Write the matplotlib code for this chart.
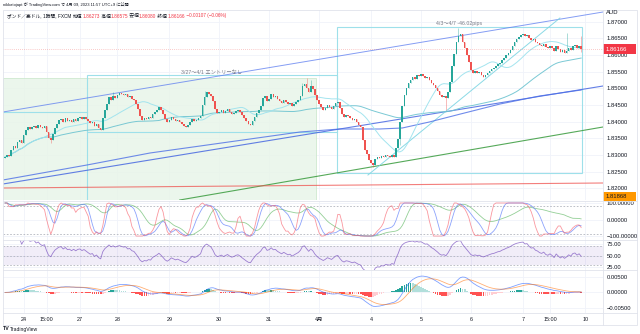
import numpy as np
import pandas as pd
import matplotlib
matplotlib.use("Agg")
import matplotlib.pyplot as plt
from matplotlib.patches import Rectangle
from matplotlib.lines import Line2D

plt.rcParams['font.family'] = ['Liberation Sans', 'Noto Sans CJK JP', 'DejaVu Sans']

W, H = 640, 334

# ---------------- data: GBP/AUD, 1h, FXCM ----------------
first_open = 1.8291
close_week1 = [  # Mar 23 .. Mar 31
    1.8294, 1.8300, 1.8297, 1.8315, 1.8327, 1.8321, 1.8339, 1.8345, 1.8336, 1.8360, 1.8375, 1.8384,
    1.8378, 1.8384, 1.8387, 1.8381, 1.8390, 1.8384, 1.8381, 1.8387, 1.8369, 1.8351, 1.8345,
    1.8363, 1.8381, 1.8393, 1.8405, 1.8408, 1.8399, 1.8411, 1.8402, 1.8405, 1.8399, 1.8408, 1.8402,
    1.8411, 1.8414, 1.8408, 1.8414, 1.8408,
    1.8402, 1.8396, 1.8399, 1.8387, 1.8393, 1.8381, 1.8375,
    1.8411, 1.8435, 1.8453, 1.8474, 1.8465, 1.8477, 1.8471, 1.8480, 1.8486,
    1.8483, 1.8480, 1.8483, 1.8474, 1.8477, 1.8468, 1.8465, 1.8453, 1.8438, 1.8417, 1.8405,
    1.8411, 1.8408, 1.8414, 1.8411, 1.8423, 1.8429, 1.8435, 1.8444, 1.8435,
    1.8423, 1.8408, 1.8399, 1.8405, 1.8414, 1.8408, 1.8402, 1.8405, 1.8399, 1.8393, 1.8387, 1.8384, 1.8390,
    1.8399, 1.8408, 1.8402, 1.8405, 1.8411, 1.8417, 1.8450, 1.8474, 1.8489,
    1.8483, 1.8477, 1.8462, 1.8438, 1.8426,
    1.8429, 1.8435, 1.8426, 1.8432, 1.8438, 1.8429, 1.8423, 1.8426, 1.8432, 1.8435, 1.8429,
    1.8420, 1.8411, 1.8402, 1.8393, 1.8390, 1.8402, 1.8414, 1.8426,
    1.8435, 1.8447, 1.8471, 1.8477, 1.8462, 1.8468, 1.8483, 1.8474, 1.8477,
    1.8468, 1.8462, 1.8456, 1.8465, 1.8459, 1.8453, 1.8456, 1.8447, 1.8453, 1.8459, 1.8465, 1.8477,
    1.8507, 1.8513, 1.8501, 1.8489, 1.8507, 1.8498, 1.8480, 1.8465,
]
close_week2 = [  # Apr 3 .. Apr 10
    1.8453, 1.8444, 1.8435, 1.8441, 1.8450, 1.8444, 1.8438, 1.8447, 1.8456, 1.8459,
    1.8441, 1.8423, 1.8414, 1.8420, 1.8417, 1.8411, 1.8405, 1.8408, 1.8399, 1.8390, 1.8384,
    1.8345, 1.8315, 1.8303, 1.8285, 1.8276, 1.8270, 1.8288, 1.8294, 1.8291, 1.8297, 1.8294, 1.8300,
    1.8297, 1.8294, 1.8300, 1.8294,
    1.8321, 1.8348, 1.8399, 1.8447, 1.8480, 1.8501, 1.8516, 1.8525, 1.8534, 1.8528, 1.8540, 1.8537, 1.8543,
    1.8537, 1.8531, 1.8534, 1.8525, 1.8516, 1.8510, 1.8501, 1.8492, 1.8480, 1.8474, 1.8477, 1.8471, 1.8489,
    1.8519, 1.8567, 1.8603, 1.8639, 1.8657, 1.8663, 1.8639,
    1.8621, 1.8600, 1.8579, 1.8555, 1.8546, 1.8552, 1.8546, 1.8549, 1.8540, 1.8534, 1.8540,
    1.8546, 1.8552, 1.8558, 1.8561, 1.8567, 1.8573, 1.8576, 1.8585, 1.8591, 1.8600, 1.8606, 1.8615,
    1.8627, 1.8639, 1.8648, 1.8654, 1.8660,
    1.8663, 1.8657, 1.8660, 1.8651, 1.8645, 1.8648, 1.8639, 1.8636, 1.8630, 1.8627, 1.8633, 1.8624,
    1.8621, 1.8627, 1.8621,
    1.8612, 1.8627, 1.8618, 1.8609, 1.8615, 1.8606, 1.8612, 1.8621, 1.8615, 1.8627, 1.8630, 1.8621,
    1.86273, 1.86166,
]
# visible wick extremes (bar index -> price)
wick_high = {52: 1.8489, 96: 1.8492, 143: 1.8516, 145: 1.8531, 147: 1.8525, 218: 1.8681,
             270: 1.8666, 277: 1.86575}
wick_low = {22: 1.8336, 177: 1.8264, 190: 1.8330, 212: 1.8435, 277: 1.86080}

# time axis
tick_bars = [9, 20, 36, 54, 79, 103, 127, 151, 176, 200, 224, 249, 262, 279]
tick_labels = ['24', '15:00', '27', '28', '29', '30', '31', '4月', '4', '5', '6', '7', '15:00', '10']

# price axis
price_ticks = [1.820, 1.825, 1.830, 1.835, 1.840, 1.845, 1.850, 1.855, 1.860, 1.865, 1.870]

# drawings (bar index, price)
upper_channel = [(-1, 1.8429), (287.5, 1.8729)]
lower_channel = [(-1, 1.8213), (287.5, 1.8507)]
green_support = [(84, 1.8165), (287.5, 1.8384)]
red_level = [(-1, 1.8201), (287.5, 1.8216)]
cyan_trend = [(174.5, 1.8240), (266.8, 1.8711)]
long_ma_bars = [-1, 39.4, 69.7, 93.8, 117.8, 141.8, 161, 180, 191, 204, 219, 238, 257, 277]
long_ma_vals = [1.8225, 1.8270, 1.8306, 1.8327, 1.8348, 1.8369, 1.8378, 1.8378, 1.8381,
                1.8399, 1.8423, 1.8453, 1.8477, 1.8495]
zone_week1 = (-1, 149.5, 1.8100, 1.8531)     # 3/27〜4/1 shaded zone
box_week1 = (39.4, 159.6, 1.8369, 1.8540)
box_week2 = (159.6, 277.4, 1.8246, 1.8684)
guide_h_price = 1.8429
label_week1 = "3/27〜4/1 エントリーなし"
label_week2 = "4/3〜4/7 -46.02pips"
last_close_label = "1.86166"
orange_label = "1.81868"

# ---------------- derived series ----------------
closes = np.array(close_week1 + close_week2)
n = len(closes)
bars = np.arange(n)
opens = np.r_[first_open, closes[:-1]]
body_hi = np.maximum(opens, closes)
body_lo = np.minimum(opens, closes)
highs = body_hi.copy()
lows = body_lo.copy()
for k, v in wick_high.items():
    highs[k] = max(highs[k], v)
for k, v in wick_low.items():
    lows[k] = min(lows[k], v)

sc = pd.Series(closes)
sh = pd.Series(highs)
sl = pd.Series(lows)
ma20 = sc.rolling(20, min_periods=1).mean()
ma75 = sc.rolling(75, min_periods=1).mean()


def stoch(period, smooth1, smooth2):
    ll = sl.rolling(period, min_periods=1).min()
    hh = sh.rolling(period, min_periods=1).max()
    k = 100 * (sc - ll) / (hh - ll).replace(0, np.nan)
    k = k.fillna(50).rolling(smooth1, min_periods=1).mean().rolling(smooth2, min_periods=1).mean()
    return 2 * k - 100


st_fast = stoch(9, 3, 1)
st_mid = stoch(14, 3, 3)
st_slow = stoch(36, 5, 4)

delta = sc.diff().fillna(0)
gain = delta.clip(lower=0).ewm(alpha=1 / 14, adjust=True).mean()
loss = (-delta.clip(upper=0)).ewm(alpha=1 / 14, adjust=True).mean()
rsi = 100 - 100 / (1 + gain / loss.replace(0, np.nan))
rsi = rsi.fillna(50)
rsi.iloc[:6] = np.nan

ema12 = sc.ewm(span=12, adjust=False).mean()
ema26 = sc.ewm(span=26, adjust=False).mean()
macd = ema12 - ema26
signal = macd.ewm(span=9, adjust=False).mean()
hist = macd - signal
prev = hist.shift(1).fillna(0)
hist_colors = np.where(hist >= 0,
                       np.where(hist > prev, '#26a69a', '#b2dfdb'),
                       np.where(hist > prev, '#ffcdd2', '#ff5252'))

# ---------------- figure ----------------
fig = plt.figure(figsize=(W / 100, H / 100), dpi=100)
fig.patch.set_facecolor('white')


def pane(x0, y0, x1, y1):
    return fig.add_axes([x0 / W, 1 - y1 / H, (x1 - x0) / W, (y1 - y0) / H])


XL = (-0.96, 287.5)
GRID = '#f0f3fa'
SEP = '#e0e3eb'
TXT = '#131722'
FS = 4.2

ax = pane(3, 10, 603, 200)
ax_st = pane(3, 201, 603, 240)
ax_rsi = pane(3, 240, 603, 270)
ax_m = pane(3, 270, 603, 313)

for a in (ax, ax_st, ax_rsi, ax_m):
    a.set_xlim(*XL)
    a.set_facecolor('white')
    for s in a.spines.values():
        s.set_visible(False)
    a.set_axisbelow(True)
    a.set_xticks(tick_bars)
    a.grid(True, color=GRID, lw=0.6)
    a.yaxis.tick_right()
    a.tick_params(axis='both', length=0, labelsize=FS, labelcolor=TXT, pad=2.4)
    a.tick_params(axis='x', labelbottom=False)

# main price pane
ax.set_ylim(1.8165, 1.8735)
ax.set_yticks(price_ticks)
ax.set_yticklabels([f"{p:.5f}" for p in price_ticks])

x0z, x1z, y0z, y1z = zone_week1
ax.add_patch(Rectangle((x0z, y0z), x1z - x0z, y1z - y0z, facecolor='#e8f5e9', edgecolor='#c8e6c9',
                       lw=0.6, alpha=0.85, zorder=1))
for bx in (box_week1, box_week2):
    ax.add_patch(Rectangle((bx[0], bx[2]), bx[1] - bx[0], bx[3] - bx[2], facecolor='none',
                           edgecolor='#9ee0ea', lw=0.8, zorder=2))
ax.plot([box_week1[0], box_week1[0]], [1.8100, box_week1[2]], color='#9ee0ea', lw=0.8, zorder=2)
ax.plot([-1, box_week1[0]], [guide_h_price, guide_h_price], color='#9ee0ea', lw=0.8, zorder=2)

for pts, col, lw, al in ((upper_channel, '#5b7cf0', 0.7, 0.75),
                         (lower_channel, '#3d5fe0', 0.8, 0.8),
                         (green_support, '#43a047', 0.8, 0.9),
                         (red_level, '#ef5350', 0.8, 0.75),
                         (cyan_trend, '#7fd6e3', 0.7, 0.9)):
    ax.plot([p[0] for p in pts], [p[1] for p in pts], color=col, lw=lw, alpha=al, zorder=3)

ax.plot(long_ma_bars, long_ma_vals, color='#4c6ee6', lw=0.8, alpha=0.8, zorder=3)
ax.plot(bars, ma75, color='#6cc3d0', lw=0.7, alpha=0.9, zorder=3)
ax.plot(bars, ma20, color='#9fe3ee', lw=0.7, alpha=0.95, zorder=3)

ax.axhline(closes[-1], color='#ef5350', lw=0.5, ls=(0, (1, 2)), alpha=0.6, zorder=3)

up = closes >= opens
ccol = np.where(up, '#26a69a', '#ef5350')
ax.vlines(bars, lows, highs, colors=ccol, lw=0.5, alpha=0.55, zorder=4)
ax.bar(bars, np.maximum(body_hi - body_lo, 0.00005), bottom=body_lo, width=0.75, color=ccol,
       lw=0, zorder=5)

ax.text((box_week1[0] + box_week1[1]) / 2, 1.8549, label_week1, ha='center', va='center',
        fontsize=3.8, color='#787b86', zorder=6)
ax.text((box_week2[0] + box_week2[1]) / 2, 1.8696, label_week2, ha='center', va='center',
        fontsize=3.8, color='#787b86', zorder=6)

# stochastic pane
ax_st.set_ylim(-124, 112)
ax_st.set_yticks([100, 0, -100])
ax_st.set_yticklabels(['100.00000', '0.00000', '−100.00000'])
for lv in (80, -85):
    ax_st.axhline(lv, color='#b2b5be', lw=0.6, ls=(0, (2, 2)))
ax_st.plot(bars, st_slow, color='#66bb6a', lw=0.6, alpha=0.7)
ax_st.plot(bars, st_mid, color='#5c7cfa', lw=0.6, alpha=0.7)
ax_st.plot(bars, st_fast, color='#f7525f', lw=0.6, alpha=0.6)

# RSI pane
ax_rsi.set_ylim(18.5, 83.7)
ax_rsi.set_yticks([75, 50, 25])
ax_rsi.set_yticklabels(['75.00', '50.00', '25.00'])
ax_rsi.axhspan(30, 70, color='#7e57c2', alpha=0.1, lw=0)
for lv in (70, 50, 30):
    ax_rsi.axhline(lv, color='#b2b5be', lw=0.6, ls=(0, (2, 2)))
ax_rsi.plot(bars, rsi, color='#7e57c2', lw=0.6, alpha=0.75)

# MACD pane
ax_m.set_ylim(-0.00652, 0.00712)
ax_m.set_yticks([0.005, 0.0, -0.005])
ax_m.set_yticklabels(['0.00500', '0.00000', '−0.00500'])
ax_m.bar(bars, hist, width=0.8, color=hist_colors, lw=0)
ax_m.plot(bars, macd, color='#2962ff', lw=0.6, alpha=0.6)
ax_m.plot(bars, signal, color='#ff6d00', lw=0.6, alpha=0.55)
ax_m.set_xticklabels(tick_labels)
ax_m.tick_params(axis='x', labelbottom=True, pad=3, labelsize=3.9)

# price labels on the right scale
fig.canvas.draw()
ydisp = ax.transData.transform((0, closes[-1]))[1]
fig.add_artist(Rectangle((603 / W, (ydisp - 5) / H), 33 / W, 10 / H, transform=fig.transFigure,
                         facecolor='#f23645', edgecolor='none'))
fig.text(606 / W, ydisp / H, last_close_label, color='white', fontsize=FS, va='center')
fig.add_artist(Rectangle((603 / W, 1 - 201 / H), 33 / W, 9 / H, transform=fig.transFigure,
                         facecolor='#ff9800', edgecolor='none'))
fig.text(606 / W, 1 - 196.5 / H, orange_label, color=TXT, fontsize=FS, va='center')
fig.text(606 / W, 1 - 13 / H, 'AUD', color=TXT, fontsize=FS, va='center')

# frame and separators
for yy in (200.5, 240, 270, 313):
    fig.add_artist(Line2D([3 / W, 637 / W], [1 - yy / H] * 2, color=SEP, lw=0.6))
fig.add_artist(Line2D([603 / W] * 2, [1 - 10 / H, 1 - 325 / H], color=SEP, lw=0.6))
fig.add_artist(Rectangle((3 / W, 1 - 325 / H), 634 / W, 315 / H, transform=fig.transFigure,
                         facecolor='none', edgecolor=SEP, lw=0.6))

# header texts
fig.text(3 / W, 1 - 5 / H, 'nikkatojapt が TradingView.com で 4月 09, 2023 11:57 UTC+9 に公開',
         fontsize=3.0, color=TXT, va='center')
renderer = fig.canvas.get_renderer()
red = '#f23645'
parts = [('ポンド／豪ドル, 1時間, FXCM ', TXT), ('始値', TXT), ('1.86273', red), (' 高値', TXT),
         ('1.86575', red), (' 安値', TXT), ('1.86080', red), (' 終値', TXT), ('1.86166', red),
         (' −0.00107 (−0.06%)', red)]
xp = 7
for s, col in parts:
    t = fig.text(xp / W, 1 - 16 / H, s, fontsize=3.4, color=col, va='center')
    xp += t.get_window_extent(renderer).width

fig.text(3 / W, 1 - 329 / H, 'TV', fontsize=3.8, color=TXT, va='center', weight='bold')
fig.text(10 / W, 1 - 329 / H, 'TradingView', fontsize=3.6, color=TXT, va='center')

fig.savefig('out.png', dpi=100, facecolor='white')
